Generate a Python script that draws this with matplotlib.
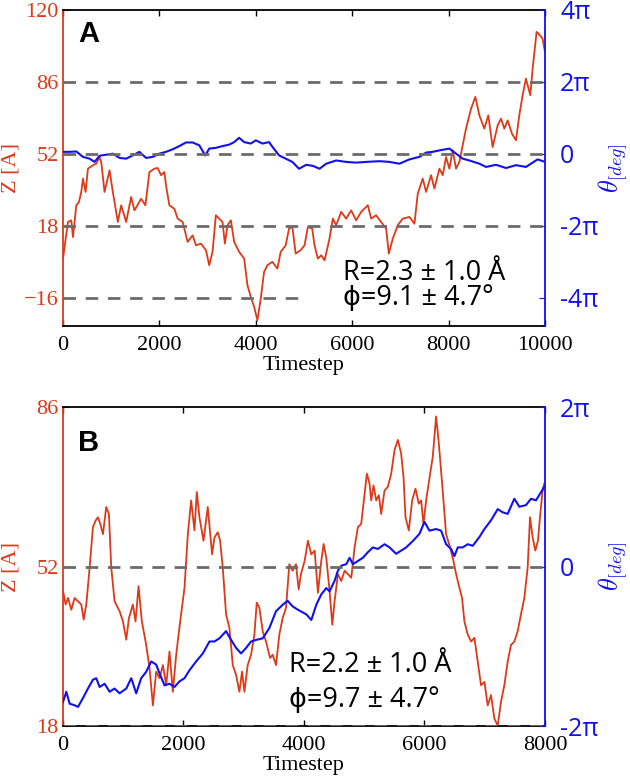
import matplotlib
matplotlib.use('Agg')
import matplotlib.pyplot as plt

plt.rcParams['font.family'] = 'Liberation Serif'
plt.rcParams['mathtext.fontset'] = 'cm'

RED = '#dc3a18'
BLUE = '#1010f0'
GRAY = '#6b6b6b'
SANS = ['Open Sans', 'DejaVu Sans']

# ---- panel A data (Z in Angstrom, theta in units of pi) ----
a_red_t = [0, 103, 172, 207, 276, 331, 379, 414, 469, 517, 621, 690, 759, 793, 862, 966,
           1034, 1138, 1207, 1310, 1414, 1483, 1621, 1710, 1793, 1897, 1966, 2035, 2103,
           2138, 2207, 2310, 2379, 2483, 2586, 2690, 2759, 2862, 2966, 3034, 3103, 3172,
           3241, 3310, 3359, 3414, 3483, 3552, 3655, 3759, 3828, 3897, 3966, 4034, 4103,
           4172, 4241, 4345, 4448, 4517, 4621, 4690, 4759, 4828, 4931, 5012, 5081, 5171,
           5219, 5288, 5358, 5427, 5530, 5599, 5668, 5772, 5876, 5979, 6083, 6187, 6325,
           6394, 6497, 6601, 6705, 6760, 6843, 6946, 7050, 7188, 7292, 7361, 7464, 7534,
           7637, 7706, 7810, 7879, 7948, 8017, 8086, 8155, 8224, 8293, 8362, 8466, 8556,
           8639, 8742, 8825, 8915, 9019, 9088, 9157, 9226, 9316, 9399, 9468, 9537, 9606,
           9696, 9744, 9827, 9896, 9951, 10000]
a_red_z = [2.4, 19.7, 20.5, 12.6, 27.6, 29.2, 33.9, 40.2, 33.9, 44.9, 46.5, 47.3, 50.4, 48.1,
           33.9, 44.1, 33.9, 19.7, 27.6, 19.7, 31.5, 25.2, 30.7, 27.6, 43.3, 44.9, 45.2,
           41.8, 43.3, 37.0, 27.6, 26.0, 21.3, 19.7, 10.3, 13.4, 8.7, 9.5, 6.4, -0.7, 5.6,
           22.9, 21.3, 19.7, 9.5, 18.2, 20.5, 10.3, 5.6, 2.4, -10.2, -15.7, -20.4, -26.7,
           -16.5, -3.9, -0.7, 0.9, -2.3, 5.6, 8.7, 16.6, 17.4, 4.8, 6.4, 8.7, 17.4, 16.6,
           8.7, 2.4, 4.0, 1.6, 11.9, 21.3, 18.2, 24.5, 21.3, 25.2, 20.5, 24.5, 27.6, 21.3,
           22.9, 19.7, 16.6, 4.8, 11.9, 18.2, 21.3, 22.1, 18.9, 33.1, 40.2, 33.9, 41.8,
           35.5, 44.9, 41.8, 50.4, 44.9, 53.6, 44.9, 48.1, 55.9, 63.8, 73.2, 78.8, 70.1,
           63.8, 70.1, 55.1, 65.4, 68.5, 63.8, 67.7, 61.4, 58.3, 70.1, 79.6, 87.4, 79.6,
           92.1, 109.5, 107.9, 106.3, 100.0]
a_blue_t = [0, 138, 276, 414, 552, 655, 759, 897, 1034, 1172, 1310, 1448, 1586, 1724, 1862,
            2000, 2138, 2276, 2414, 2552, 2690, 2828, 2952, 3034, 3172, 3310, 3448, 3552,
            3655, 3759, 3897, 4000, 4138, 4276, 4345, 4483, 4621, 4759, 4897, 5047, 5185,
            5323, 5461, 5668, 5876, 6083, 6290, 6566, 6774, 6981, 7188, 7395, 7534, 7672,
            7810, 8017, 8155, 8293, 8432, 8639, 8777, 8984, 9192, 9399, 9606, 9744, 9848,
            10000]
a_blue_th = [0.05, 0.05, 0.06, -0.09, -0.14, -0.23, -0.06, -0.03, 0.0, -0.12, -0.14, -0.05,
             0.05, -0.12, -0.09, 0.0, 0.05, 0.12, 0.21, 0.31, 0.31, 0.23, -0.05, 0.14, 0.16,
             0.21, 0.25, 0.32, 0.44, 0.32, 0.28, 0.37, 0.28, 0.32, 0.19, -0.05, -0.14, -0.23,
             -0.42, -0.31, -0.34, -0.42, -0.28, -0.19, -0.23, -0.25, -0.23, -0.21, -0.23,
             -0.28, -0.16, -0.09, 0.03, 0.05, 0.09, 0.14, 0.0, -0.14, -0.19, -0.28, -0.37,
             -0.31, -0.40, -0.32, -0.37, -0.25, -0.16, -0.23]

# ---- panel B data ----
b_red_t = [0, 44, 83, 138, 193, 249, 304, 343, 387, 442, 497, 541, 580, 619, 663, 718, 762,
           801, 856, 939, 995, 1050, 1094, 1160, 1204, 1254, 1309, 1381, 1437, 1492, 1547,
           1602, 1658, 1713, 1768, 1823, 1879, 1945, 2017, 2072, 2127, 2182, 2221, 2265,
           2332, 2403, 2475, 2514, 2569, 2608, 2652, 2707, 2763, 2818, 2873, 2928, 2972,
           3011, 3066, 3122, 3177, 3216, 3260, 3315, 3370, 3437, 3481, 3536, 3591, 3646,
           3702, 3757, 3812, 3867, 3912, 3950, 4011, 4066, 4122, 4177, 4232, 4287, 4326,
           4370, 4425, 4470, 4508, 4564, 4619, 4674, 4729, 4785, 4840, 4895, 4950, 5006,
           5044, 5088, 5116, 5155, 5199, 5243, 5282, 5337, 5392, 5448, 5503, 5558, 5613,
           5652, 5685, 5740, 5796, 5851, 5906, 5945, 5983, 6028, 6094, 6138, 6193, 6238,
           6293, 6359, 6425, 6481, 6525, 6580, 6624, 6663, 6718, 6774, 6829, 6884, 6939,
           6995, 7050, 7105, 7160, 7216, 7271, 7326, 7381, 7437, 7492, 7547, 7602, 7658,
           7713, 7752, 7796, 7840, 7884, 7917, 7961, 7989]
b_red_z = [46.8, 43.9, 45.3, 42.8, 45.3, 44.6, 43.9, 40.7, 43.9, 51.8, 60.4, 61.8, 62.5,
           61.1, 58.9, 64.7, 63.2, 51.8, 44.6, 42.5, 40.3, 36.4, 41.0, 43.9, 40.3, 47.8,
           40.3, 35.3, 30.3, 22.4, 29.6, 28.2, 31.0, 26.7, 33.9, 25.3, 33.2, 40.3, 47.5,
           58.9, 66.1, 59.7, 67.9, 62.5, 57.5, 64.7, 54.6, 58.2, 59.3, 57.5, 51.8, 41.8,
           38.9, 31.0, 28.9, 25.3, 29.6, 25.3, 31.0, 33.2, 37.5, 44.3, 43.2, 38.2, 36.0,
           32.5, 33.2, 31.0, 37.5, 41.0, 43.2, 52.5, 51.1, 52.5, 47.1, 50.4, 53.2, 57.5,
           54.6, 55.4, 46.4, 53.2, 56.8, 53.9, 46.8, 39.6, 44.6, 50.4, 48.9, 51.1, 50.4,
           49.6, 56.1, 60.4, 61.1, 67.5, 71.8, 69.7, 66.1, 69.3, 66.1, 67.2, 63.2, 68.2,
           69.0, 71.8, 76.8, 79.0, 76.1, 71.1, 62.5, 59.7, 66.1, 68.6, 65.4, 66.1, 61.1,
           66.1, 71.8, 75.4, 84.0, 78.3, 69.7, 58.9, 56.1, 53.2, 50.4, 47.5, 45.3, 40.3,
           37.5, 36.0, 36.8, 31.7, 26.7, 27.4, 22.4, 24.6, 19.6, 18.1, 23.2, 26.7, 31.7,
           35.3, 36.0, 38.2, 41.8, 45.3, 51.8, 62.5, 58.2, 55.4, 57.5, 62.5, 68.2, 69.7]
b_blue_t = [0, 55, 110, 193, 249, 331, 414, 497, 552, 608, 691, 773, 856, 939, 1050, 1133,
            1215, 1298, 1381, 1464, 1547, 1602, 1685, 1768, 1851, 1934, 2017, 2100, 2210,
            2321, 2431, 2514, 2597, 2707, 2790, 2873, 2956, 3039, 3122, 3205, 3315, 3426,
            3536, 3646, 3729, 3812, 3895, 4039, 4122, 4204, 4287, 4370, 4425, 4508, 4564,
            4619, 4702, 4757, 4812, 4895, 4978, 5061, 5144, 5227, 5337, 5420, 5530, 5613,
            5696, 5807, 5917, 6000, 6083, 6193, 6276, 6359, 6442, 6497, 6553, 6635, 6718,
            6801, 6912, 6995, 7105, 7216, 7298, 7381, 7492, 7575, 7685, 7768, 7851, 7917,
            7989]
b_blue_th = [-1.70, -1.57, -1.72, -1.74, -1.76, -1.65, -1.53, -1.42, -1.40, -1.51, -1.47,
             -1.57, -1.53, -1.59, -1.53, -1.40, -1.59, -1.40, -1.32, -1.19, -1.23, -1.34,
             -1.49, -1.47, -1.51, -1.44, -1.40, -1.30, -1.19, -1.09, -0.94, -0.94, -0.90,
             -0.81, -0.92, -1.02, -1.09, -1.02, -0.94, -0.92, -0.90, -0.77, -0.56, -0.48,
             -0.43, -0.50, -0.54, -0.60, -0.67, -0.48, -0.35, -0.27, -0.31, -0.18, -0.05,
             0.01, 0.03, 0.11, 0.03, 0.07, 0.11, 0.18, 0.24, 0.22, 0.28, 0.24, 0.16, 0.20,
             0.24, 0.32, 0.41, 0.56, 0.45, 0.47, 0.45, 0.28, 0.22, 0.13, 0.24, 0.24, 0.28,
             0.26, 0.37, 0.47, 0.58, 0.72, 0.68, 0.66, 0.85, 0.75, 0.77, 0.85, 0.83, 0.91,
             1.00]

a_zticks = [-16, 18, 52, 86, 120]
b_zticks = [18, 52, 86]
a_thticks = [-4, -2, 0, 2, 4]
b_thticks = [-2, 0, 2]
a_xticks = [0, 2000, 4000, 6000, 8000, 10000]
b_xticks = [0, 2000, 4000, 6000, 8000]
a_stats = ['R=2.3 ± 1.0 Å', 'ϕ=9.1 ± 4.7°']
b_stats = ['R=2.2 ± 1.0 Å', 'ϕ=9.7 ± 4.7°']


def pi_label(k):
    if k == 0:
        return '0'
    return '%dπ' % k


def draw_panel(fig, rect, letter, rt, rz, bt, bth, zlim, zticks, thticks, xticks, dashes,
               cut, stats, letter_y, stats_xy):
    ax = fig.add_axes(rect)
    ax2 = ax.twinx()
    ax.plot(rt, rz, color=RED, lw=1.3)
    ax2.plot(bt, bth, color=BLUE, lw=1.5)
    for lev in dashes:
        ax2.axhline(lev, color=GRAY, lw=2, ls=(0, (4.5, 3.5)), zorder=5)
    if cut is not None:
        ax2.hlines(cut[0], xticks[0], cut[1], color=GRAY, lw=2, ls=(0, (4.5, 3.5)), zorder=5)

    ax.set_xlim(xticks[0], xticks[-1])
    ax.set_ylim(zlim)
    ax2.set_ylim((zlim[0] - 52) / 17.0, (zlim[1] - 52) / 17.0)

    ax.set_xticks(xticks)
    ax.set_yticks(zticks)
    ax.tick_params(axis='x', direction='in', top=True, length=4, width=1, labelsize=16, pad=7)
    ax.tick_params(axis='y', direction='in', length=4, colors=RED, labelsize=16, pad=3)
    ax2.set_yticks(thticks, [pi_label(k) for k in thticks], fontfamily=SANS)
    ax2.tick_params(axis='y', direction='in', length=4, colors=BLUE, labelsize=18, pad=11)

    ax.spines['left'].set_color(RED)
    ax.spines['right'].set_visible(False)
    for s in ['left', 'top', 'bottom']:
        ax2.spines[s].set_visible(False)
    ax2.spines['right'].set_color(BLUE)
    for s in ['left', 'top', 'bottom']:
        ax.spines[s].set_linewidth(1.3)
    ax2.spines['right'].set_linewidth(1.3)

    ax.set_xlabel('Timestep', fontsize=16, labelpad=1)
    ax.set_ylabel('Z [A]', color=RED, fontsize=16)
    ax.yaxis.set_label_coords(-0.089, 0.5)
    ax2.set_ylabel(r'$\theta_{[deg]}$', color=BLUE, fontsize=19)
    ax2.yaxis.set_label_coords(1.108, 0.5)

    ax.text(0.031, letter_y, letter, transform=ax.transAxes, fontsize=21,
            fontweight='bold', family='Liberation Sans', va='baseline', zorder=10)
    ax2.text(stats_xy[0], stats_xy[1], stats[0], transform=ax.transAxes, fontsize=19.5,
             family=SANS, va='baseline', zorder=10)
    ax2.text(stats_xy[0], stats_xy[2], stats[1], transform=ax.transAxes, fontsize=19.5,
             family=SANS, va='baseline', zorder=10)
    return ax


fig = plt.figure(figsize=(6.3, 7.78), dpi=100)
draw_panel(fig, [0.1, 0.581, 0.765, 0.4066], 'A', a_red_t, a_red_z, a_blue_t, a_blue_th,
           (-29.4, 120), a_zticks, a_thticks, a_xticks, [2, 0, -2], (-4, 5000), a_stats,
           0.899, (0.581, 0.146, 0.066))
draw_panel(fig, [0.1, 0.0668, 0.765, 0.410], 'B', b_red_t, b_red_z, b_blue_t, b_blue_th,
           (18, 86), b_zticks, b_thticks, b_xticks, [0, -2], None, b_stats,
           0.862, (0.469, 0.169, 0.06))
fig.savefig('out.png', dpi=100)
